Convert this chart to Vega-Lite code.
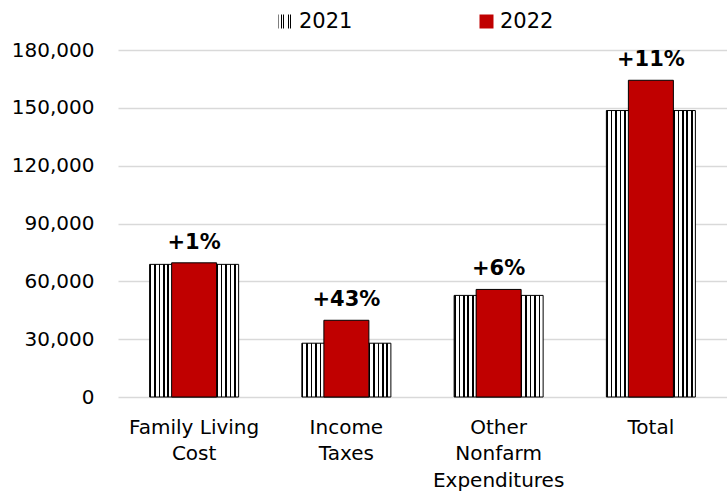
{
  "$schema": "https://vega.github.io/schema/vega-lite/v6.json",
  "width": 609,
  "height": 347,
  "autosize": {"type": "none"},
  "padding": {"left": 118, "top": 50, "right": 0, "bottom": 100},
  "config": {"view": {"stroke": null}, "font": "DejaVu Sans"},
  "resolve": {"scale": {"opacity": "independent"}, "legend": {"opacity": "independent"}},
  "data": {"values": [
    {"category": "Family Living Cost", "year": "2021", "value": 68800, "label": ""},
    {"category": "Family Living Cost", "year": "2022", "value": 69600, "label": "+1%"},
    {"category": "Income Taxes", "year": "2021", "value": 27900, "label": ""},
    {"category": "Income Taxes", "year": "2022", "value": 39800, "label": "+43%"},
    {"category": "Other Nonfarm Expenditures", "year": "2021", "value": 52700, "label": ""},
    {"category": "Other Nonfarm Expenditures", "year": "2022", "value": 55800, "label": "+6%"},
    {"category": "Total", "year": "2021", "value": 148600, "label": ""},
    {"category": "Total", "year": "2022", "value": 164300, "label": "+11%"}
  ]},
  "encoding": {
    "x": {
      "field": "category", "type": "nominal", "sort": null,
      "scale": {"paddingInner": 0, "paddingOuter": 0},
      "axis": {
        "title": null, "labelAngle": 0, "domain": false, "ticks": false, "grid": false,
        "labelFontSize": 20, "labelColor": "#000", "labelPadding": 20, "labelLineHeight": 26.5,
        "labelBaseline": "top", "labelLimit": 300,
        "labelExpr": "datum.value == 'Family Living Cost' ? ['Family Living','Cost'] : datum.value == 'Income Taxes' ? ['Income','Taxes'] : datum.value == 'Other Nonfarm Expenditures' ? ['Other','Nonfarm','Expenditures'] : datum.value"
      }
    },
    "y": {
      "field": "value", "type": "quantitative",
      "scale": {"domain": [0, 180000], "nice": false},
      "axis": {
        "title": null, "values": [0, 30000, 60000, 90000, 120000, 150000, 180000], "format": ",d",
        "domain": false, "ticks": false, "labelPadding": 24, "labelFontSize": 20, "labelColor": "#000",
        "grid": true, "gridColor": "#d9d9d9", "gridWidth": 1.5
      }
    }
  },
  "layer": [
    {
      "transform": [{"filter": "datum.year == '2021'"}],
      "mark": {"type": "bar", "width": 89, "stroke": "#000", "strokeWidth": 1,
        "fill": {"gradient": "linear", "x1": 0, "y1": 0, "x2": 1, "y2": 0, "stops": [
              {"offset": 0, "color": "#000"}, {"offset": 0.018, "color": "#000"}, {"offset": 0.018, "color": "#fff"}, {"offset": 0.05, "color": "#fff"},
              {"offset": 0.05, "color": "#000"}, {"offset": 0.068, "color": "#000"}, {"offset": 0.068, "color": "#fff"}, {"offset": 0.1, "color": "#fff"},
              {"offset": 0.1, "color": "#000"}, {"offset": 0.118, "color": "#000"}, {"offset": 0.118, "color": "#fff"}, {"offset": 0.15, "color": "#fff"},
              {"offset": 0.15, "color": "#000"}, {"offset": 0.168, "color": "#000"}, {"offset": 0.168, "color": "#fff"}, {"offset": 0.2, "color": "#fff"},
              {"offset": 0.2, "color": "#000"}, {"offset": 0.218, "color": "#000"}, {"offset": 0.218, "color": "#fff"}, {"offset": 0.25, "color": "#fff"},
              {"offset": 0.25, "color": "#000"}, {"offset": 0.268, "color": "#000"}, {"offset": 0.268, "color": "#fff"}, {"offset": 0.3, "color": "#fff"},
              {"offset": 0.3, "color": "#000"}, {"offset": 0.318, "color": "#000"}, {"offset": 0.318, "color": "#fff"}, {"offset": 0.35, "color": "#fff"},
              {"offset": 0.35, "color": "#000"}, {"offset": 0.368, "color": "#000"}, {"offset": 0.368, "color": "#fff"}, {"offset": 0.4, "color": "#fff"},
              {"offset": 0.4, "color": "#000"}, {"offset": 0.418, "color": "#000"}, {"offset": 0.418, "color": "#fff"}, {"offset": 0.45, "color": "#fff"},
              {"offset": 0.45, "color": "#000"}, {"offset": 0.468, "color": "#000"}, {"offset": 0.468, "color": "#fff"}, {"offset": 0.5, "color": "#fff"},
              {"offset": 0.5, "color": "#000"}, {"offset": 0.518, "color": "#000"}, {"offset": 0.518, "color": "#fff"}, {"offset": 0.55, "color": "#fff"},
              {"offset": 0.55, "color": "#000"}, {"offset": 0.568, "color": "#000"}, {"offset": 0.568, "color": "#fff"}, {"offset": 0.6, "color": "#fff"},
              {"offset": 0.6, "color": "#000"}, {"offset": 0.618, "color": "#000"}, {"offset": 0.618, "color": "#fff"}, {"offset": 0.65, "color": "#fff"},
              {"offset": 0.65, "color": "#000"}, {"offset": 0.668, "color": "#000"}, {"offset": 0.668, "color": "#fff"}, {"offset": 0.7, "color": "#fff"},
              {"offset": 0.7, "color": "#000"}, {"offset": 0.718, "color": "#000"}, {"offset": 0.718, "color": "#fff"}, {"offset": 0.75, "color": "#fff"},
              {"offset": 0.75, "color": "#000"}, {"offset": 0.768, "color": "#000"}, {"offset": 0.768, "color": "#fff"}, {"offset": 0.8, "color": "#fff"},
              {"offset": 0.8, "color": "#000"}, {"offset": 0.818, "color": "#000"}, {"offset": 0.818, "color": "#fff"}, {"offset": 0.85, "color": "#fff"},
              {"offset": 0.85, "color": "#000"}, {"offset": 0.868, "color": "#000"}, {"offset": 0.868, "color": "#fff"}, {"offset": 0.9, "color": "#fff"},
              {"offset": 0.9, "color": "#000"}, {"offset": 0.918, "color": "#000"}, {"offset": 0.918, "color": "#fff"}, {"offset": 0.95, "color": "#fff"},
              {"offset": 0.95, "color": "#000"}, {"offset": 0.968, "color": "#000"}, {"offset": 0.968, "color": "#fff"}, {"offset": 1, "color": "#fff"}
            ]}
      },
      "encoding": {
        "opacity": {
          "field": "year", "type": "ordinal",
          "scale": {"domain": ["2021"], "range": [1]},
          "legend": {
            "orient": "none", "legendX": 157, "legendY": -39, "direction": "horizontal", "title": null,
            "symbolType": "square", "symbolSize": 196, "symbolStrokeColor": "#000", "symbolStrokeWidth": 1,
            "labelFontSize": 21, "labelColor": "#000", "labelOffset": 3, "padding": 0
          }
        }
      }
    },
    {
      "transform": [{"filter": "datum.year == '2022'"}],
      "mark": {"type": "bar", "width": 45, "stroke": "#000", "strokeWidth": 1, "fill": "#c00000"},
      "encoding": {
        "opacity": {
          "datum": "2022", "type": "ordinal",
          "scale": {"domain": ["2022"], "range": [1]},
          "legend": {
            "orient": "none", "legendX": 358, "legendY": -39, "direction": "horizontal", "title": null,
            "symbolType": "square", "symbolSize": 196, "symbolStrokeColor": "#000", "symbolStrokeWidth": 1,
            "labelFontSize": 21, "labelColor": "#000", "labelOffset": 3, "padding": 0
          }
        }
      }
    },
    {
      "transform": [{"filter": "datum.year == '2022'"}],
      "mark": {"type": "text", "fontWeight": "bold", "fontSize": 21, "dy": -14, "baseline": "alphabetic", "color": "#000"},
      "encoding": {
        "text": {"field": "label", "type": "nominal"}
      }
    }
  ]
}
